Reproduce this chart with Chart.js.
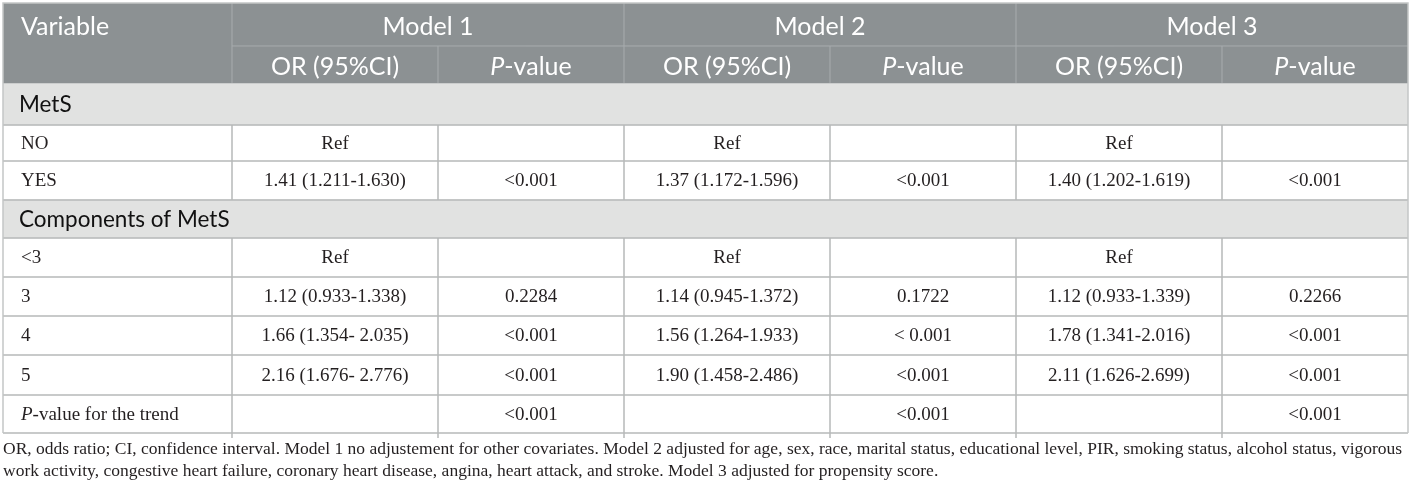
<!DOCTYPE html>
<html>
<head>
<meta charset="utf-8">
<script src="https://cdn.jsdelivr.net/npm/chart.js@4.4.1/dist/chart.umd.min.js"></script>
<style>
  html, body { margin: 0; padding: 0; background: #fff; }
  #wrap { width: 1412px; height: 490px; position: relative; }
</style>
</head>
<body>
<div id="wrap"><canvas id="tabela"></canvas></div>
<script>
// dados da tabela
const models = ['Model 1', 'Model 2', 'Model 3'];
const subHeaders = ['OR (95%CI)', 'P-value'];
const rowLabels = ['MetS', 'NO', 'YES', 'Components of MetS', '<3', '3', '4', '5', 'P-value for the trend'];
const sectionRows = ['MetS', 'Components of MetS'];

const orModel1 = ['', 'Ref', '1.41 (1.211-1.630)', '', 'Ref', '1.12 (0.933-1.338)', '1.66 (1.354- 2.035)', '2.16 (1.676- 2.776)', ''];
const pModel1  = ['', '', '<0.001', '', '', '0.2284', '<0.001', '<0.001', '<0.001'];
const orModel2 = ['', 'Ref', '1.37 (1.172-1.596)', '', 'Ref', '1.14 (0.945-1.372)', '1.56 (1.264-1.933)', '1.90 (1.458-2.486)', ''];
const pModel2  = ['', '', '<0.001', '', '', '0.1722', '< 0.001', '<0.001', '<0.001'];
const orModel3 = ['', 'Ref', '1.40 (1.202-1.619)', '', 'Ref', '1.12 (0.933-1.339)', '1.78 (1.341-2.016)', '2.11 (1.626-2.699)', ''];
const pModel3  = ['', '', '<0.001', '', '', '0.2266', '<0.001', '<0.001', '<0.001'];

const footnote = [
    'OR, odds ratio; CI, confidence interval. Model 1 no adjustement for other covariates. Model 2 adjusted for age, sex, race, marital status, educational level, PIR, smoking status, alcohol status, vigorous',
    'work activity, congestive heart failure, coronary heart disease, angina, heart attack, and stroke. Model 3 adjusted for propensity score.'
];

// layout: larguras das colunas e alturas das linhas
const colWidths = [229, 206, 186, 206, 186, 206, 186];
const rowHeights = [43, 37, 42, 36, 39, 38, 39, 39, 39, 40, 38];

const colEdges = [0];
colWidths.forEach(w => colEdges.push(colEdges[colEdges.length - 1] + w));
const rowEdges = [0];
rowHeights.forEach(h => rowEdges.push(rowEdges[rowEdges.length - 1] + h));
const totalW = colEdges[colEdges.length - 1];
const totalH = rowEdges[rowEdges.length - 1];

const columns = [orModel1, pModel1, orModel2, pModel2, orModel3, pModel3];
const rows = ['Variable', 'Sub', ...rowLabels];

const HEADER_BG = '#8c9193';
const SECTION_BG = '#e1e2e1';
const LINE = '#b7b9b9';
const HEAD_LINE = '#a8acae';
const TEXT = '#231f20';
const SANS = 'Lato, "Open Sans", sans-serif';
const SERIF = '"Liberation Serif", "DejaVu Serif", serif';

// faixas de fundo (cabeçalho e seções) como barras flutuantes
const fillDatasets = [
    { data: [[rowEdges[0], rowEdges[2]]], backgroundColor: HEADER_BG }
];
rows.forEach((r, i) => {
    if (sectionRows.includes(r)) {
        fillDatasets.push({ data: [[rowEdges[i], rowEdges[i + 1]]], backgroundColor: SECTION_BG });
    }
});
fillDatasets.forEach(d => Object.assign(d, { grouped: false, barPercentage: 1, categoryPercentage: 1, borderWidth: 0 }));

// escreve texto com o "P" em itálico quando começa com "P-"
function drawText(ctx, text, x, y, align, size, family, color) {
    ctx.fillStyle = color;
    ctx.textBaseline = 'middle';
    ctx.textAlign = 'left';
    const normal = `${size}px ${family}`;
    const italic = `italic ${size}px ${family}`;
    let parts = [[text, normal]];
    if (text.startsWith('P-')) {
        parts = [['P', italic], [text.slice(1), normal]];
    }
    let w = 0;
    parts.forEach(p => { ctx.font = p[1]; w += ctx.measureText(p[0]).width; });
    let cx = align === 'center' ? x - w / 2 : x;
    parts.forEach(p => {
        ctx.font = p[1];
        ctx.fillText(p[0], cx, y);
        cx += ctx.measureText(p[0]).width;
    });
}

const tablePlugin = {
    id: 'tablePlugin',
    afterDatasetsDraw(chart) {
        const ctx = chart.ctx;
        const xs = chart.scales.cols;
        const ys = chart.scales.y;
        const px = v => xs.getPixelForValue(v);
        const py = v => ys.getPixelForValue(v);
        const rowTop = i => py(rowEdges[i]);
        const rowMid = i => (py(rowEdges[i]) + py(rowEdges[i + 1])) / 2;
        const colMid = c => (px(colEdges[c]) + px(colEdges[c + 1])) / 2;
        const last = rows.length;

        ctx.save();

        // linhas do cabeçalho
        ctx.strokeStyle = HEAD_LINE;
        ctx.lineWidth = 1;
        ctx.beginPath();
        [1, 3, 5].forEach(c => { ctx.moveTo(px(colEdges[c]), rowTop(0)); ctx.lineTo(px(colEdges[c]), rowTop(2)); });
        [2, 4, 6].forEach(c => { ctx.moveTo(px(colEdges[c]), rowTop(1)); ctx.lineTo(px(colEdges[c]), rowTop(2)); });
        ctx.moveTo(px(colEdges[1]), rowTop(1));
        ctx.lineTo(px(totalW), rowTop(1));
        ctx.stroke();

        // linhas do corpo
        ctx.strokeStyle = LINE;
        ctx.lineWidth = 1.5;
        ctx.beginPath();
        for (let i = 3; i <= last; i++) {
            ctx.moveTo(px(0), rowTop(i));
            ctx.lineTo(px(totalW), rowTop(i));
        }
        for (let i = 2; i < last; i++) {
            if (sectionRows.includes(rows[i])) continue;
            const y0 = rowTop(i);
            const y1 = i === last - 1 ? rowTop(last) + 5 : rowTop(i + 1);
            for (let c = 1; c < colWidths.length; c++) {
                ctx.moveTo(px(colEdges[c]), y0);
                ctx.lineTo(px(colEdges[c]), y1);
            }
        }
        ctx.stroke();

        // borda externa
        ctx.strokeStyle = '#c4c6c6';
        ctx.lineWidth = 1.5;
        ctx.beginPath();
        ctx.moveTo(px(0), rowTop(last));
        ctx.lineTo(px(0), rowTop(0));
        ctx.lineTo(px(totalW), rowTop(0));
        ctx.lineTo(px(totalW), rowTop(last));
        ctx.stroke();

        // textos do cabeçalho
        drawText(ctx, 'Variable', px(0) + 18, rowMid(0) + 2, 'left', 25, SANS, '#fff');
        models.forEach((m, k) => {
            const x = (px(colEdges[1 + 2 * k]) + px(colEdges[3 + 2 * k])) / 2;
            drawText(ctx, m, x, rowMid(0) + 2, 'center', 25, SANS, '#fff');
            subHeaders.forEach((s, j) => {
                drawText(ctx, s, colMid(1 + 2 * k + j), rowMid(1) + 2, 'center', 25, SANS, '#fff');
            });
        });

        // textos do corpo
        rowLabels.forEach((r, i) => {
            const row = i + 2;
            if (sectionRows.includes(r)) {
                drawText(ctx, r, px(0) + 16, rowMid(row) + 1, 'left', 22.5, SANS, '#111');
                return;
            }
            drawText(ctx, r, px(0) + 18, rowMid(row) + 1, 'left', 19, SERIF, TEXT);
            columns.forEach((col, c) => {
                if (col[i]) drawText(ctx, col[i], colMid(c + 1), rowMid(row) + 1, 'center', 19, SERIF, TEXT);
            });
        });

        ctx.restore();
    }
};

new Chart(document.getElementById('tabela'), {
    type: 'bar',
    data: {
        labels: ['tabela'],
        datasets: fillDatasets
    },
    options: {
        responsive: true,
        maintainAspectRatio: false,
        animation: false,
        layout: { padding: { left: 3, right: 4, top: 3, bottom: 8 } },
        scales: {
            x: { type: 'category', display: false, offset: true },
            cols: { type: 'linear', axis: 'x', min: 0, max: totalW, offset: false, display: false },
            y: { type: 'linear', min: 0, max: totalH, reverse: true, display: false }
        },
        plugins: {
            legend: { display: false },
            tooltip: { enabled: false },
            subtitle: {
                display: true,
                position: 'bottom',
                align: 'start',
                text: footnote,
                color: TEXT,
                font: { family: SERIF, size: 17.5, lineHeight: 1.26 },
                padding: { top: 5, bottom: 0 }
            }
        }
    },
    plugins: [tablePlugin]
});
</script>
</body>
</html>
